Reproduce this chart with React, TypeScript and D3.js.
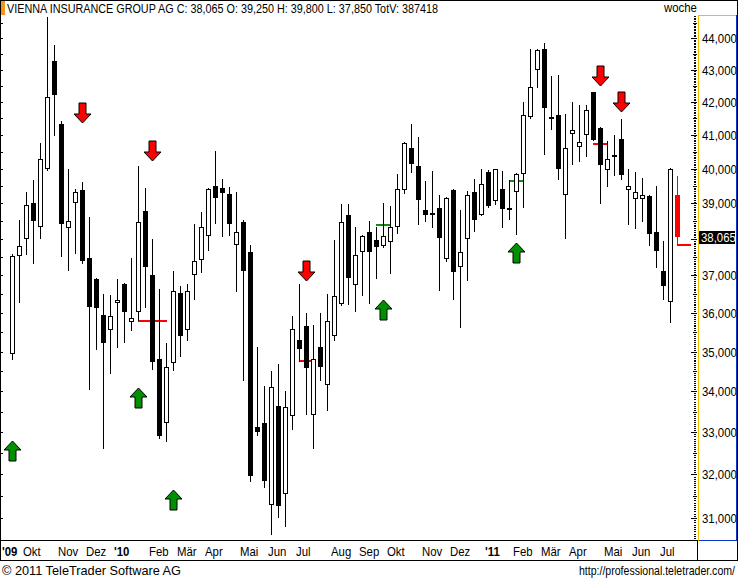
import React, { useEffect } from 'react';
import * as d3 from 'd3';

const W = 738;
const H = 579;

const title = 'VIENNA INSURANCE GROUP AG C: 38,065 O: 39,250 H: 39,800 L: 37,850 TotV: 387418';
const period = 'woche';

// weekly OHLC (index 0 = late Sep 2009, last = Jul 2011)
const opens = [34.93, 37.53, 38.0, 39.0, 38.34, 40.0, 43.26, 41.31, 38.31, 39.02, 39.39, 37.47, 36.9, 35.94, 35.55, 36.26, 36.76, 35.77, 36.03, 38.79, 37.0, 34.81, 33.23, 34.7, 36.53, 35.55, 37.02, 37.43, 38.08, 39.51, 39.44, 39.28, 37.84, 38.46, 37.63, 33.13, 33.23, 31.29, 33.64, 31.55, 33.4, 35.3, 35.66, 33.43, 35.12, 34.16, 35.4, 36.24, 38.68, 36.74, 37.63, 38.19, 37.96, 37.81, 37.91, 38.34, 39.38, 40.62, 40.09, 38.82, 38.74, 38.87, 37.46, 39.39, 37.24, 38.0, 39.31, 38.68, 39.89, 39.06, 39.42, 38.87, 39.33, 39.84, 41.55, 43.0, 43.66, 41.54, 41.6, 39.24, 41.02, 40.64, 40.99, 42.29, 41.2, 39.96, 40.41, 40.87, 39.38, 39.11, 39.11, 39.21, 38.2, 37.11, 36.3, 39.25];
const highs = [37.58, 38.53, 39.33, 39.66, 40.77, 44.68, 43.76, 41.41, 39.99, 39.4, 39.61, 38.6, 36.92, 36.51, 36.47, 36.9, 36.8, 37.47, 40.09, 39.45, 38.0, 36.63, 35.23, 37.11, 36.71, 36.76, 38.41, 38.76, 39.43, 40.51, 39.71, 39.48, 39.31, 38.52, 37.84, 35.12, 34.14, 34.51, 34.68, 34.02, 35.92, 36.76, 36.01, 35.68, 35.99, 36.51, 37.96, 38.99, 38.99, 38.32, 38.1, 38.49, 38.34, 39.0, 38.92, 39.83, 40.79, 41.31, 40.94, 39.63, 39.94, 39.24, 39.18, 39.42, 38.82, 39.36, 39.71, 40.0, 39.96, 40.0, 39.94, 39.68, 39.88, 42.0, 43.65, 43.65, 43.84, 42.79, 42.83, 41.62, 42.0, 41.91, 41.91, 42.31, 41.22, 40.82, 41.0, 41.48, 39.99, 39.89, 39.74, 39.24, 39.51, 37.93, 40.03, 39.8];
const lows = [34.81, 36.28, 37.58, 37.33, 38.03, 39.95, 41.0, 37.53, 37.14, 37.6, 37.35, 34.06, 35.07, 32.63, 34.45, 35.12, 35.25, 35.55, 35.83, 36.16, 34.57, 32.86, 32.78, 34.54, 34.88, 35.3, 36.37, 37.09, 37.69, 38.44, 38.08, 38.1, 36.58, 34.28, 31.85, 32.94, 31.71, 30.64, 31.02, 30.82, 33.08, 34.77, 33.45, 32.63, 34.28, 33.55, 35.3, 36.2, 36.24, 36.05, 36.48, 36.26, 36.94, 37.78, 37.06, 38.17, 39.29, 39.91, 38.42, 38.49, 38.34, 36.62, 37.38, 36.37, 35.63, 36.88, 38.22, 38.66, 38.9, 38.97, 38.34, 38.55, 38.15, 38.89, 41.52, 42.47, 40.43, 41.18, 39.71, 38.03, 40.13, 40.21, 40.36, 40.83, 39.02, 39.51, 39.81, 39.71, 38.41, 38.31, 38.49, 37.83, 37.23, 36.37, 35.76, 37.85];
const closes = [37.53, 37.8, 38.94, 38.5, 40.29, 42.14, 42.2, 38.42, 38.49, 39.31, 37.38, 36.16, 36.12, 35.21, 35.92, 36.35, 36.03, 35.86, 38.46, 37.23, 34.74, 32.9, 34.62, 36.58, 35.39, 36.58, 37.38, 38.34, 39.41, 39.14, 39.29, 38.42, 38.18, 37.11, 31.97, 33.01, 31.85, 34.12, 31.27, 33.61, 35.59, 35.07, 34.58, 34.81, 34.6, 35.79, 36.45, 38.46, 36.94, 37.55, 38.07, 37.64, 37.79, 38.09, 38.32, 39.41, 40.77, 40.13, 39.09, 38.66, 38.72, 38.02, 39.14, 37.09, 37.64, 39.24, 38.53, 39.56, 38.92, 39.99, 38.84, 38.85, 39.84, 41.6, 42.44, 43.62, 41.82, 41.52, 39.98, 40.62, 41.15, 40.79, 41.76, 40.85, 40.11, 40.28, 40.39, 39.81, 39.5, 39.33, 39.24, 38.15, 37.67, 36.71, 40.0, 38.065];

// x-axis labels: week index where each month starts
const monthLabels = ["'09", 'Okt', 'Nov', 'Dez', "'10", 'Feb', 'Mär', 'Apr', 'Mai', 'Jun', 'Jul', 'Aug', 'Sep', 'Okt', 'Nov', 'Dez', "'11", 'Feb', 'Mär', 'Apr', 'Mai', 'Jun', 'Jul'];
const monthIndex = [0, 1, 6, 10, 14, 19, 23, 27, 32, 36, 40, 45, 49, 53, 58, 62, 67, 71, 75, 79, 84, 88, 92];

// y-axis tick values
const yTicks = [31, 32, 33, 34, 35, 36, 37, 38, 39, 40, 41, 42, 43, 44];

// signals
const buyIndex = [0, 18, 23, 53, 72];
const buyLevel = [32.79, 34.09, 31.65, 36.35, 37.9];
const sellIndex = [10, 20, 42, 84, 87];
const sellLevel = [41.35, 40.21, 36.85, 42.5, 41.7];

// stop lines
const redStopFrom = [18, 41, 83];
const redStopTo = [22, 43, 85];
const redStopPrice = [35.83, 34.79, 40.75];
const greenStopFrom = [52, 71];
const greenStopTo = [54, 73];
const greenStopPrice = [38.42, 39.67];

const lastPriceLabel = '38,065';
const footerLeft = '\u00A9 2011 TeleTrader Software AG';
const footerRight = 'http://professional.teletrader.com/';

const FONT = '"Liberation Sans", Arial, sans-serif';
const SX = 0.95;

function T({ x, y, children, size = 12, weight = 'normal', fill = '#000', anchor = 'start', sx = SX }: any) {
  return (
    <text
      transform={`translate(${x},${y}) scale(${sx},1)`}
      fontFamily={FONT}
      fontSize={size}
      fontWeight={weight}
      fill={fill}
      textAnchor={anchor}
    >
      {children}
    </text>
  );
}

export default function App() {
  useEffect(() => {
    document.body.style.margin = '0';
  }, []);

  const n = closes.length;
  const x = d3.scaleLinear().domain([0, n - 1]).range([12, 677]);
  const y = d3.scaleLog().domain([31, 44]).range([518, 38]);
  const px = (i: number) => Math.round(x(i));
  const py = (v: number) => Math.round(y(v));

  const plotTop = 15;
  const plotBottom = 541;
  const axisX = 697;

  const minor = d3.range(30.5, 44.8, 0.05).filter((v) => y(v) > plotTop + 1 && y(v) < plotBottom - 1);
  const half = d3.range(30.5, 45, 0.5).filter((v) => y(v) > plotTop && y(v) < plotBottom);

  const fmt = (v: number) => v.toFixed(3).replace('.', ',');
  const lastY = py(closes[n - 1]);
  const labelTicks = yTicks.filter((v) => Math.abs(py(v) - lastY) > 12);

  const downArrow = (cx: number, tip: number) =>
    `M${cx - 3.5},${tip - 20} H${cx + 3.5} V${tip - 9} H${cx + 8.5} L${cx},${tip} L${cx - 8.5},${tip - 9} H${cx - 3.5} Z`;
  const upArrow = (cx: number, tip: number) =>
    `M${cx - 3.5},${tip + 20} H${cx + 3.5} V${tip + 9} H${cx + 8.5} L${cx},${tip} L${cx - 8.5},${tip + 9} H${cx - 3.5} Z`;

  return (
    <svg
      width={W}
      height={H}
      viewBox={`0 0 ${W} ${H}`}
      style={{ position: 'absolute', left: 0, top: 0, display: 'block', background: '#fff' }}
      shapeRendering="crispEdges"
    >
      <rect x={0} y={0} width={W} height={H} fill="#fff" />

      {/* header */}
      <line x1={0} x2={W} y1={0.5} y2={0.5} stroke="#000" />
      <rect x={0} y={1} width={5} height={14} fill="#f7941d" />
      <text
        x={7}
        y={13}
        fontFamily={FONT}
        fontSize={12.5}
        textLength={431}
        lengthAdjust="spacingAndGlyphs"
        fill="#000"
      >
        {title}
      </text>
      <T x={664} y={12} size={12}>{period}</T>

      {/* borders */}
      <line x1={0.5} x2={0.5} y1={0} y2={561} stroke="#000" />
      <line x1={737.5} x2={737.5} y1={0} y2={561} stroke="#000" />
      <line x1={0} x2={axisX + 1} y1={plotBottom - 0.5} y2={plotBottom - 0.5} stroke="#000" />
      <line x1={0} x2={W} y1={560.5} y2={560.5} stroke="#000" />
      <line x1={axisX + 0.5} x2={axisX + 0.5} y1={plotBottom} y2={561} stroke="#000" />

      {/* left ticks */}
      {half.map((v, k) => (
        <line key={'lt' + k} x1={0} x2={3} y1={py(v) + 0.5} y2={py(v) + 0.5} stroke="#000" />
      ))}

      {/* right axis ticks */}
      {minor.map((v, k) => (
        <line key={'mt' + k} x1={axisX - 3} x2={axisX - 1} y1={py(v) + 0.5} y2={py(v) + 0.5} stroke="#000" />
      ))}
      {half.map((v, k) => (
        <line key={'ht' + k} x1={axisX - 4} x2={axisX} y1={py(v) + 0.5} y2={py(v) + 0.5} stroke="#000" />
      ))}
      {yTicks.map((v) => (
        <line key={'yt' + v} x1={axisX - 6} x2={axisX} y1={py(v) + 0.5} y2={py(v) + 0.5} stroke="#000" />
      ))}

      {/* right panel frame */}
      <line x1={698.5} x2={698.5} y1={plotTop} y2={plotBottom} stroke="#f0c000" />
      <line x1={698} x2={737} y1={plotTop + 0.5} y2={plotTop + 0.5} stroke="#f0c000" />
      <line x1={736.5} x2={736.5} y1={plotTop} y2={plotBottom} stroke="#0a36c8" strokeWidth={1} />
      <line x1={699} x2={737} y1={plotBottom - 0.5} y2={plotBottom - 0.5} stroke="#0a36c8" />

      {/* y labels */}
      {labelTicks.map((v) => (
        <T key={'yl' + v} x={702} y={py(v) + 4.5} size={12}>
          {fmt(v)}
        </T>
      ))}

      {/* stop lines */}
      {redStopFrom.map((s, k) => (
        <line key={'rs' + k} x1={px(s)} x2={px(redStopTo[k]) + 1} y1={py(redStopPrice[k]) + 0.5} y2={py(redStopPrice[k]) + 0.5} stroke="#ff0000" strokeWidth={2} />
      ))}
      {greenStopFrom.map((s, k) => (
        <line key={'gs' + k} x1={px(s)} x2={px(greenStopTo[k]) + 1} y1={py(greenStopPrice[k]) + 0.5} y2={py(greenStopPrice[k]) + 0.5} stroke="#148a14" strokeWidth={2} />
      ))}

      {/* candles */}
      {closes.map((c, i) => {
        const o = opens[i];
        const cx = px(i);
        const last = i === n - 1;
        const col = last ? '#ff0000' : '#000';
        const top = py(Math.max(o, c));
        const bot = py(Math.min(o, c));
        const hgt = bot - top;
        const up = c >= o;
        return (
          <g key={'c' + i}>
            <line x1={cx + 0.5} x2={cx + 0.5} y1={py(highs[i])} y2={py(lows[i]) + 1} stroke={col} />
            {hgt <= 1 ? (
              <rect x={cx - 2} y={top} width={5} height={2} fill={col} />
            ) : up && !last ? (
              <rect x={cx - 1.5} y={top + 0.5} width={4} height={hgt - 1} fill="#fff" stroke="#000" />
            ) : (
              <rect x={cx - 2} y={top} width={5} height={hgt} fill={col} />
            )}
          </g>
        );
      })}

      {/* last price marker */}
      <line x1={px(n - 1)} x2={691} y1={py(lows[n - 1]) + 0.5} y2={py(lows[n - 1]) + 0.5} stroke="#ff0000" strokeWidth={2} />
      <rect x={699} y={lastY - 6} width={36} height={13} fill="#000" />
      <T x={701} y={lastY + 4.5} size={12} fill="#fff">
        {lastPriceLabel}
      </T>

      {/* arrows */}
      {sellIndex.map((s, k) => (
        <path key={'sa' + k} d={downArrow(px(s) + 0.5, py(sellLevel[k]))} fill="#ff0000" stroke="#000" shapeRendering="auto" />
      ))}
      {buyIndex.map((b, k) => (
        <path key={'ba' + k} d={upArrow(px(b) + 0.5, py(buyLevel[k]))} fill="#008f00" stroke="#000" shapeRendering="auto" />
      ))}

      {/* x labels */}
      {monthLabels.map((m, k) => {
        const bold = m.startsWith("'");
        const lx = k === 0 ? 2 : px(monthIndex[k]) + 4;
        return (
          <T key={'ml' + k} x={lx} y={556} size={12} weight={bold ? 'bold' : 'normal'}>
            {m}
          </T>
        );
      })}

      {/* footer */}
      <T x={2} y={575} size={12.5} sx={1.02}>{footerLeft}</T>
      <T x={735} y={575} size={12} anchor="end" sx={0.88}>{footerRight}</T>
    </svg>
  );
}
